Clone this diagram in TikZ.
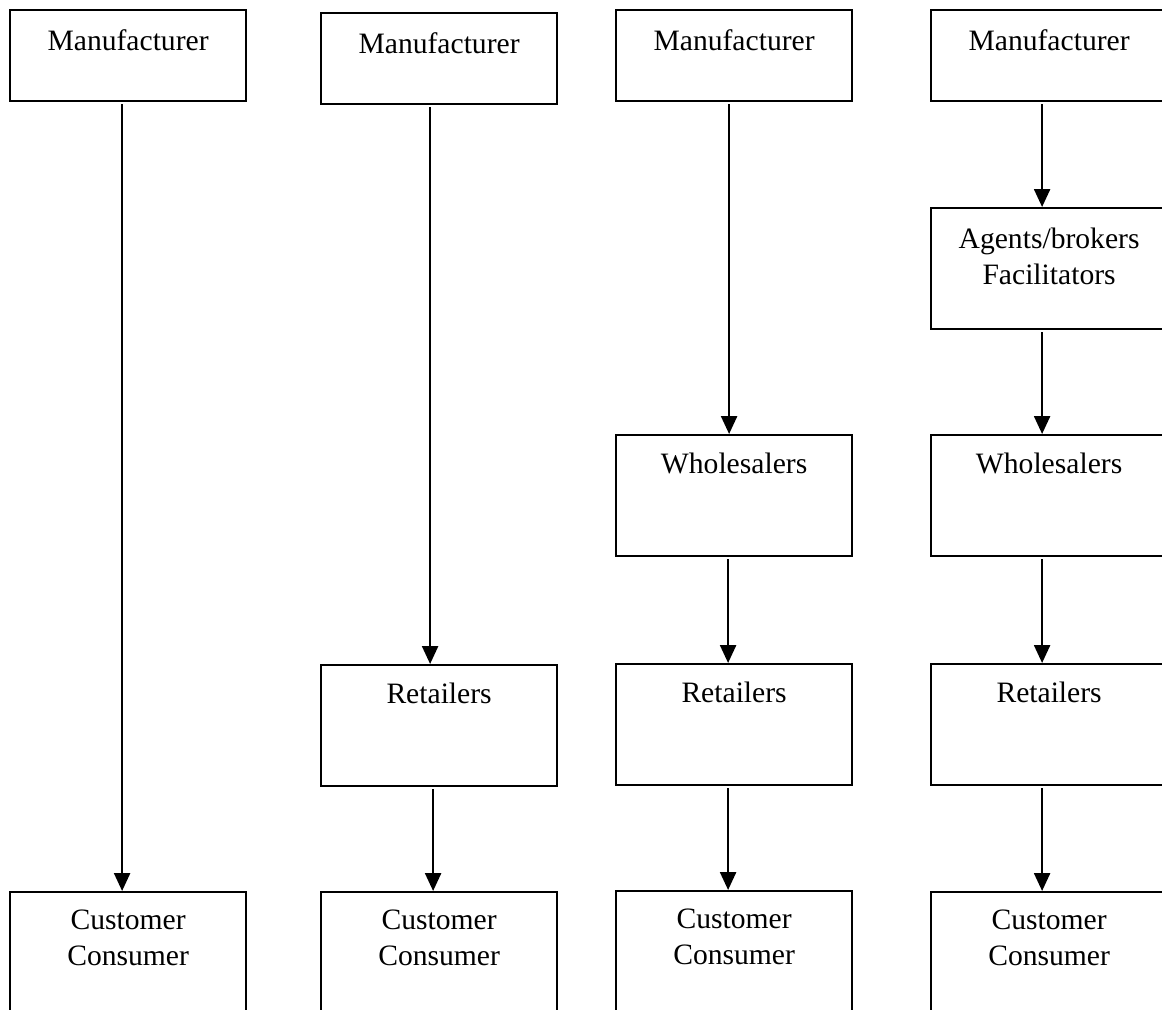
\documentclass[tikz,border=0pt]{standalone}
\usepackage{fontspec}
\setmainfont{Liberation Serif}
\usetikzlibrary{positioning,arrows.meta}

\tikzset{
  box/.style={draw=black, line width=1.1pt, anchor=north west, inner sep=0pt,
    minimum width=118pt, minimum height=45.5pt},
  tall/.style={box, minimum height=60.5pt},
  lbl/.style={inner sep=0pt, align=center, font=\fontsize{14.8}{18}\selectfont},
  flow/.style={line width=1.2pt, -{Triangle[length=9pt,width=8pt]}, shorten <=1pt}
}

\begin{document}
\begin{tikzpicture}[x=0.5pt, y=-0.5pt]
\path[use as bounding box, clip] (0,0) rectangle (1162,1009);
% direct
\node (m1) [box] at (9,9) {};
\node (c1) [tall] at (9,891) {};
% via retailers
\node (m2) [box] at (320,12) {};
\node (r2) [tall] at (320,664) {};
\node (c2) [tall] at (320,891) {};
% via wholesalers
\node (m3) [box] at (615,9) {};
\node (w3) [tall] at (615,434) {};
\node (r3) [tall] at (615,663) {};
\node (c3) [tall] at (615,890) {};
% via agents
\node (m4) [box] at (930,9) {};
\node (a4) [tall] at (930,207) {};
\node (w4) [tall] at (930,434) {};
\node (r4) [tall] at (930,663) {};
\node (c4) [tall] at (930,891) {};

\node (m1t) [lbl, below=10pt of m1.north] {Manufacturer};
\node (m2t) [lbl, below=10pt of m2.north] {Manufacturer};
\node (m3t) [lbl, below=10pt of m3.north] {Manufacturer};
\node (m4t) [lbl, below=10pt of m4.north] {Manufacturer};
\node (a4t) [lbl, below=10.5pt of a4.north] {Agents/brokers\\Facilitators};
\node (w3t) [lbl, below=9.5pt of w3.north] {Wholesalers};
\node (w4t) [lbl, below=9.5pt of w4.north] {Wholesalers};
\node (r2t) [lbl, below=9.5pt of r2.north] {Retailers};
\node (r3t) [lbl, below=9.5pt of r3.north] {Retailers};
\node (r4t) [lbl, below=9.5pt of r4.north] {Retailers};
\node (c1t) [lbl, below=9pt of c1.north] {Customer\\Consumer};
\node (c2t) [lbl, below=9pt of c2.north] {Customer\\Consumer};
\node (c3t) [lbl, below=9pt of c3.north] {Customer\\Consumer};
\node (c4t) [lbl, below=9pt of c4.north] {Customer\\Consumer};

\draw [flow] ([xshift=-3pt]m1.south) -- ([xshift=-3pt]c1.north);
\draw [flow] ([xshift=-4.5pt]m2.south) -- ([xshift=-4.5pt]r2.north);
\draw [flow] ([xshift=-3pt]r2.south) -- ([xshift=-3pt]c2.north);
\draw [flow] ([xshift=-2.5pt]m3.south) -- ([xshift=-2.5pt]w3.north);
\draw [flow] ([xshift=-3pt]w3.south) -- ([xshift=-3pt]r3.north);
\draw [flow] ([xshift=-3pt]r3.south) -- ([xshift=-3pt]c3.north);
\draw [flow] ([xshift=-3.5pt]m4.south) -- ([xshift=-3.5pt]a4.north);
\draw [flow] ([xshift=-3.5pt]a4.south) -- ([xshift=-3.5pt]w4.north);
\draw [flow] ([xshift=-3.5pt]w4.south) -- ([xshift=-3.5pt]r4.north);
\draw [flow] ([xshift=-3.5pt]r4.south) -- ([xshift=-3.5pt]c4.north);
\end{tikzpicture}
\end{document}
